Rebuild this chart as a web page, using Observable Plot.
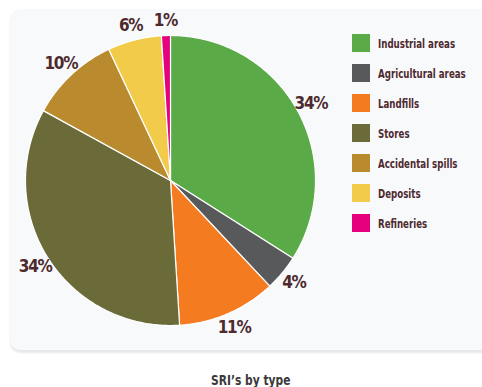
<!DOCTYPE html>
<html>
<head>
<meta charset="utf-8">
<script src="https://cdn.jsdelivr.net/npm/d3@7"></script>
<script src="https://cdn.jsdelivr.net/npm/@observablehq/plot@0.6"></script>
<style>
  html, body { margin: 0; padding: 0; background: #fff; width: 482px; height: 387px; overflow: hidden; }
  body { position: relative; font-family: "Liberation Sans Narrow", "DejaVu Sans Condensed", sans-serif; }
  #panel { position: absolute; left: 10px; top: 9px; width: 500px; height: 341px; background: #f8f9fb;
           border-radius: 10px; box-shadow: 0 3px 2px rgba(0,0,0,0.09); }
  #chart { position: absolute; left: 0; top: 0; }
  #chart svg { overflow: visible; }
  #chart svg text { letter-spacing: -1.3px; }
  #legend { position: absolute; left: 352px; top: 34px; }
  .row { display: flex; align-items: center; height: 18px; margin-bottom: 12px; white-space: nowrap; }
  .sw { width: 18px; height: 18px; margin-right: 8px; flex: none; }
  .lab { font-weight: bold; font-size: 13px; color: #4e2a2f; display: inline-block;
         transform: scaleX(0.74); transform-origin: left center; }
  #caption { position: absolute; left: 0; width: 502px; top: 370px; text-align: center; }
  #caption span { display: inline-block; font-weight: bold; font-size: 14px; color: #3a3a3a;
                  transform: scaleX(0.85); }
</style>
</head>
<body>
<div id="panel"></div>
<div id="chart"></div>
<div id="legend"></div>
<div id="caption"><span>SRI’s by type</span></div>
<script>
const categories = ["Industrial areas", "Agricultural areas", "Landfills", "Stores", "Accidental spills", "Deposits", "Refineries"];
const shares = [34, 4, 11, 34, 10, 6, 1];
const labels = ["34%", "4%", "11%", "34%", "10%", "6%", "1%"];
const colors = ["#5aab47", "#58595b", "#f47b20", "#6b6b3a", "#b98b2e", "#f2cb4b", "#e6007e"];

const rows = categories.map((c, i) => ({category: c, share: shares[i], label: labels[i]}));
const arcs = d3.pie().sort(null).value(d => d.share)(rows);

// polygon outline for each slice, derived from the pie angles
const poly = [];
for (const a of arcs) {
  const n = Math.max(2, Math.ceil((a.endAngle - a.startAngle) / 0.01));
  poly.push({category: a.data.category, x: 0, y: 0});
  for (let k = 0; k <= n; k++) {
    const t = a.startAngle + (a.endAngle - a.startAngle) * k / n;
    poly.push({category: a.data.category, x: Math.sin(t), y: Math.cos(t)});
  }
  poly.push({category: a.data.category, x: 0, y: 0});
}
const labelR = 1.105;
const labelPts = arcs.map(a => {
  const m = (a.startAngle + a.endAngle) / 2;
  return {label: a.data.label, x: labelR * Math.sin(m), y: labelR * Math.cos(m)};
});

const cx = 170, cy = 180, R = 145;
const chart = Plot.plot({
  width: 340, height: 360,
  margin: 0,
  style: {background: "transparent", overflow: "visible"},
  x: {domain: [-1, 1], range: [cx - R, cx + R], axis: null},
  y: {domain: [-1, 1], range: [cy + R, cy - R], axis: null},
  color: {domain: categories, range: colors},
  marks: [
    Plot.line(poly, {x: "x", y: "y", z: "category", fill: "category", stroke: "white", strokeWidth: 1.2, curve: "linear"}),
    Plot.text(labelPts, {x: "x", y: "y", text: "label", fontSize: 17, fontWeight: "bold", fill: "#4e2a2f",
      fontFamily: "Liberation Sans Narrow, DejaVu Sans Condensed, sans-serif"})
  ]
});
document.getElementById("chart").appendChild(chart);

const legend = document.getElementById("legend");
categories.forEach((c, i) => {
  const row = document.createElement("div");
  row.className = "row";
  const sw = document.createElement("div");
  sw.className = "sw";
  sw.style.background = colors[i];
  const lab = document.createElement("span");
  lab.className = "lab";
  lab.textContent = c;
  row.appendChild(sw); row.appendChild(lab);
  legend.appendChild(row);
});
</script>
</body>
</html>
